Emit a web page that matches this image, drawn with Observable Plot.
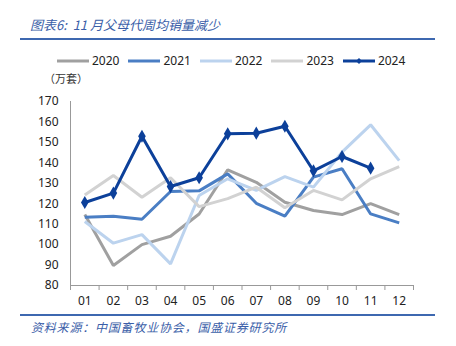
<!DOCTYPE html>
<html><head><meta charset="utf-8">
<script src="https://cdn.jsdelivr.net/npm/d3@7"></script>
<script src="https://cdn.jsdelivr.net/npm/@observablehq/plot@0.6"></script>
<style>
body{margin:0;background:#fff;width:456px;height:346px;position:relative;overflow:hidden;font-family:"Noto Sans",sans-serif;}
#title{position:absolute;left:30px;top:15px;font:italic 13px "Noto Sans CJK SC",sans-serif;color:#3a5ea8;white-space:pre;}
#rule1{position:absolute;left:20px;top:38px;width:415px;height:2px;background:#3e68b0;}
#legend{position:absolute;left:57px;top:52px;display:flex;gap:9px;font-size:12px;color:#222;}
#legend .item{display:flex;align-items:center;gap:3px;}
#unit{position:absolute;left:44px;top:70px;font:11px "Noto Sans CJK SC",sans-serif;color:#333;}
#chart{position:absolute;left:0;top:70px;}
#rule2{position:absolute;left:20px;top:314px;width:415px;height:2px;background:#3e68b0;}
#source{position:absolute;left:31px;top:318px;font:italic 12px "Noto Sans CJK SC",sans-serif;color:#3a5ea8;white-space:pre;letter-spacing:0.8px;}
</style></head>
<body>
<div id="title">图表6:  11 月父母代周均销量减少</div>
<div id="rule1"></div>
<div id="legend"></div>
<div id="unit">（万套）</div>
<div id="chart"></div>
<div id="rule2"></div>
<div id="source">资料来源：中国畜牧业协会，国盛证券研究所</div>
<script>
const months = ["01","02","03","04","05","06","07","08","09","10","11","12"];
const seriesNames = ["2020","2021","2022","2023","2024"];
const colors = ["#a0a0a0","#4a7ec4","#bcd3ee","#d2d2d2","#0c409a"];
const v2020 = [114.7, 89.8, 100.0, 104.1, 115.0, 136.6, 130.5, 120.7, 116.7, 114.7, 120.0, 114.7];
const v2021 = [113.4, 113.9, 112.4, 126.0, 126.3, 134.6, 120.2, 113.9, 133.0, 137.1, 115.0, 110.6];
const v2022 = [111.3, 100.7, 104.9, 90.6, 124.0, 132.2, 126.5, 133.3, 128.1, 145.2, 158.6, 141.1];
const v2023 = [124.3, 133.8, 123.2, 132.7, 118.6, 122.5, 128.1, 118.0, 126.5, 121.9, 132.2, 138.2];
const v2024 = [120.6, 125.2, 153.0, 128.4, 132.7, 154.2, 154.5, 157.9, 136.1, 143.1, 137.4];
const yTicks = [80,90,100,110,120,130,140,150,160,170];

const allValues = [v2020, v2021, v2022, v2023, v2024];
const rows = [];
seriesNames.forEach((s, k) => {
  allValues[k].forEach((v, i) => rows.push({series: s, month: months[i], idx: i + 1, value: v}));
});
const rows2024 = rows.filter(d => d.series === "2024");

// legend
const leg = document.getElementById("legend");
seriesNames.forEach((s, k) => {
  const it = document.createElement("div");
  it.className = "item";
  const diamond = s === "2024" ? `<path d="M16,1 L19,4 L16,7 L13,4 Z" fill="${colors[k]}"/>` : "";
  it.innerHTML = `<svg width="32" height="8"><line x1="0" x2="32" y1="4" y2="4" stroke="${colors[k]}" stroke-width="3"/>${diamond}</svg><span>${s}</span>`;
  leg.appendChild(it);
});

const plot = Plot.plot({
  width: 456,
  height: 245,
  marginTop: 31,
  marginBottom: 30,
  marginLeft: 70,
  marginRight: 43,
  style: {fontFamily: "Noto Sans, sans-serif", fontSize: "12px", color: "#222", background: "transparent"},
  x: {type: "linear", domain: [0.5, 12.5], axis: null, label: null},
  y: {domain: [80, 170], axis: null, label: null},
  color: {domain: seriesNames, range: colors},
  marks: [
    Plot.axisY({ticks: yTicks, tickSize: 0, tickPadding: 12, fontSize: 12, label: null}),
    Plot.axisX({ticks: d3.range(1, 13), tickSize: 0, tickPadding: 11, tickFormat: d => months[d - 1], fontSize: 12, label: null}),
    Plot.axisX({ticks: d3.range(0.5, 13, 1), tickSize: 5, tickFormat: () => "", stroke: "#999", strokeOpacity: 1, label: null}),
    Plot.ruleY([80], {stroke: "#999"}),
    Plot.ruleX([0.5], {stroke: "#999"}),
    Plot.line(rows, {x: "idx", y: "value", z: "series", stroke: "series", strokeWidth: 3, strokeLinejoin: "miter", strokeLinecap: "butt"}),
    Plot.dot(rows2024, {x: "idx", y: "value", symbol: "diamond", r: 4, fill: colors[4], stroke: "none"})
  ]
});
document.getElementById("chart").appendChild(plot);
</script>
</body></html>
